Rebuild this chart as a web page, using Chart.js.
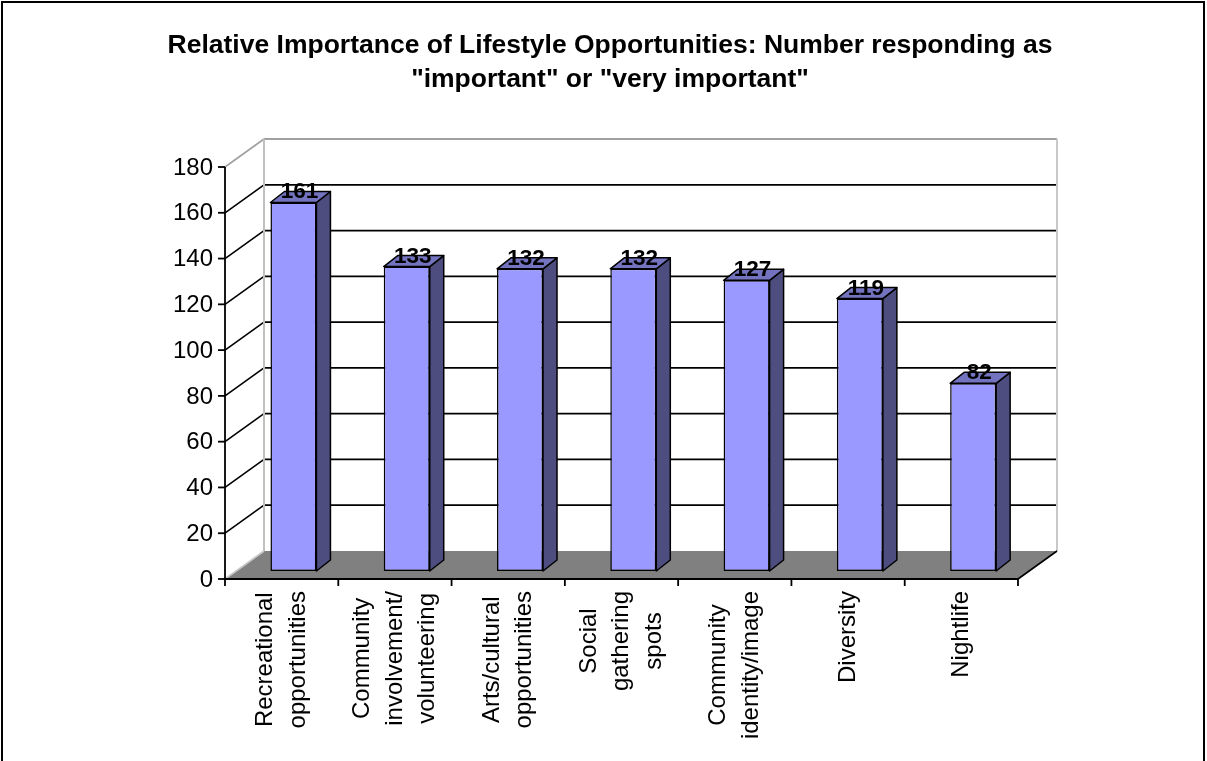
<!DOCTYPE html>
<html>
<head>
<meta charset="utf-8">
<script src="https://cdn.jsdelivr.net/npm/chart.js@4.4.1/dist/chart.umd.min.js"></script>
<style>
  html, body { margin: 0; padding: 0; background: #fff; }
  canvas { display: block; }
</style>
</head>
<body>
<canvas id="chart" width="1207" height="761"></canvas>
<script>
// data
const categories = [
    ["Recreational", "opportunities"],
    ["Community", "involvement/", "volunteering"],
    ["Arts/cultural", "opportunities"],
    ["Social", "gathering", "spots"],
    ["Community", "identity/image"],
    ["Diversity"],
    ["Nightlife"]
];
const counts = [161, 133, 132, 132, 127, 119, 82];
const yTicks = [0, 20, 40, 60, 80, 100, 120, 140, 160, 180];
const titleLines = [
    'Relative Importance of Lifestyle Opportunities: Number responding as',
    '"important" or "very important"'
];

const FONT = "'Liberation Sans', Arial, sans-serif";
// oblique offsets from the bar plane
const FRONT = { dx: -11.8, dy: 8 };
const BACK = { dx: 27.2, dy: -20 };
const SIDE = { dx: 14, dy: -11 };

function line(ctx, x1, y1, x2, y2, color, w) {
    ctx.beginPath();
    ctx.moveTo(x1, y1);
    ctx.lineTo(x2, y2);
    ctx.strokeStyle = color;
    ctx.lineWidth = w;
    ctx.stroke();
}

function poly(ctx, pts, fill, stroke) {
    ctx.beginPath();
    ctx.moveTo(pts[0][0], pts[0][1]);
    for (let i = 1; i < pts.length; i++) ctx.lineTo(pts[i][0], pts[i][1]);
    ctx.closePath();
    if (fill) { ctx.fillStyle = fill; ctx.fill(); }
    if (stroke) { ctx.strokeStyle = stroke; ctx.lineWidth = 1.5; ctx.lineJoin = 'round'; ctx.stroke(); }
}

const frame3d = {
    id: 'frame3d',
    beforeDraw(chart) {
        const ctx = chart.ctx;
        ctx.save();
        ctx.fillStyle = '#fff';
        ctx.fillRect(0, 0, chart.width, chart.height);
        // outer border
        ctx.strokeStyle = '#000';
        ctx.lineWidth = 2;
        ctx.strokeRect(2, 2, 1202, 800);
        // title
        ctx.fillStyle = '#000';
        ctx.font = 'bold 26.5px ' + FONT;
        ctx.textAlign = 'center';
        ctx.textBaseline = 'middle';
        titleLines.forEach((t, i) => ctx.fillText(t, 610, 46 + i * 34));
        ctx.restore();
    },
    beforeDatasetsDraw(chart) {
        const ctx = chart.ctx;
        const y = chart.scales.y;
        const a = chart.chartArea;
        const n = categories.length;
        const w = a.width / n;
        const y0 = y.getPixelForValue(0);
        const yTop = y.getPixelForValue(180);
        ctx.save();

        // floor
        poly(ctx, [
            [a.left + FRONT.dx, y0 + FRONT.dy],
            [a.right + FRONT.dx, y0 + FRONT.dy],
            [a.right + BACK.dx, y0 + BACK.dy],
            [a.left + BACK.dx, y0 + BACK.dy]
        ], '#808080');

        // back wall and side wall lines
        yTicks.forEach(v => {
            const py = y.getPixelForValue(v);
            let col = '#000';
            if (v === 180) col = '#a0a0a0';
            if (v === 0) col = '#c8c8c8';
            if (v !== 0) line(ctx, a.left + BACK.dx, py + BACK.dy, a.right + BACK.dx, py + BACK.dy, col, 1.8);
            line(ctx, a.left + FRONT.dx, py + FRONT.dy, a.left + BACK.dx, py + BACK.dy, col, 1.6);
        });
        line(ctx, a.left + BACK.dx, yTop + BACK.dy, a.left + BACK.dx, y0 + BACK.dy, '#c0c0c0', 2);
        line(ctx, a.right + BACK.dx, yTop + BACK.dy, a.right + BACK.dx, y0 + BACK.dy, '#c8c8c8', 2);

        // floor front edges
        line(ctx, a.left + FRONT.dx, y0 + FRONT.dy, a.right + FRONT.dx, y0 + FRONT.dy, '#000', 2);
        line(ctx, a.right + FRONT.dx, y0 + FRONT.dy, a.right + BACK.dx, y0 + BACK.dy, '#000', 1.6);

        // value axis at the front
        const ax = a.left + FRONT.dx;
        line(ctx, ax, yTop + FRONT.dy, ax, y0 + FRONT.dy, '#000', 1.8);
        ctx.fillStyle = '#000';
        ctx.font = '24px ' + FONT;
        ctx.textAlign = 'right';
        ctx.textBaseline = 'middle';
        yTicks.forEach(v => {
            const py = y.getPixelForValue(v) + FRONT.dy;
            line(ctx, ax - 7, py, ax, py, '#000', 1.8);
            ctx.fillText(String(v), ax - 12, py + 1);
        });

        // category ticks and labels
        for (let i = 0; i <= n; i++) {
            const px = a.left + i * w + FRONT.dx;
            line(ctx, px, y0 + FRONT.dy, px, y0 + FRONT.dy + 7, '#000', 1.8);
        }
        ctx.textAlign = 'center';
        const lh = 32.5;
        categories.forEach((lines, i) => {
            const cx = a.left + (i + 0.5) * w + FRONT.dx;
            const maxW = Math.max(...lines.map(t => ctx.measureText(t).width));
            const top = y0 + FRONT.dy + 12;
            lines.forEach((t, j) => {
                const lx = cx + (j - (lines.length - 1) / 2) * lh;
                ctx.save();
                ctx.translate(lx, top + maxW / 2);
                ctx.rotate(-Math.PI / 2);
                ctx.fillText(t, 0, 0);
                ctx.restore();
            });
        });
        ctx.restore();
    },
    afterDatasetsDraw(chart) {
        const ctx = chart.ctx;
        const meta = chart.getDatasetMeta(0);
        ctx.save();
        meta.data.forEach((bar, i) => {
            const l = bar.x - bar.width / 2;
            const r = bar.x + bar.width / 2;
            const t = bar.y;
            const b = bar.base;
            poly(ctx, [[r, t], [r + SIDE.dx, t + SIDE.dy], [r + SIDE.dx, b + SIDE.dy], [r, b]], '#4d4d80', '#000');
            poly(ctx, [[l, t], [l + SIDE.dx, t + SIDE.dy], [r + SIDE.dx, t + SIDE.dy], [r, t]], '#7373bf', '#000');
        });
        ctx.fillStyle = '#000';
        ctx.font = 'bold 22.5px ' + FONT;
        ctx.textAlign = 'center';
        ctx.textBaseline = 'alphabetic';
        meta.data.forEach((bar, i) => {
            ctx.fillText(String(counts[i]), bar.x + 6, bar.y - 4);
        });
        ctx.restore();
    }
};

new Chart(document.getElementById('chart'), {
    type: 'bar',
    data: {
        labels: categories,
        datasets: [{
            data: counts,
            backgroundColor: '#9999ff',
            borderColor: '#000',
            borderWidth: 1.5,
            borderSkipped: false,
            barPercentage: 0.406,
            categoryPercentage: 1
        }]
    },
    options: {
        responsive: false,
        animation: false,
        layout: { padding: { left: 236.8, right: 177.2, top: 159, bottom: 190 } },
        scales: {
            x: { display: false },
            y: { display: false, min: 0, max: 180 }
        },
        plugins: {
            legend: { display: false },
            tooltip: { enabled: false },
            title: { display: false }
        }
    },
    plugins: [frame3d]
});
</script>
</body>
</html>
